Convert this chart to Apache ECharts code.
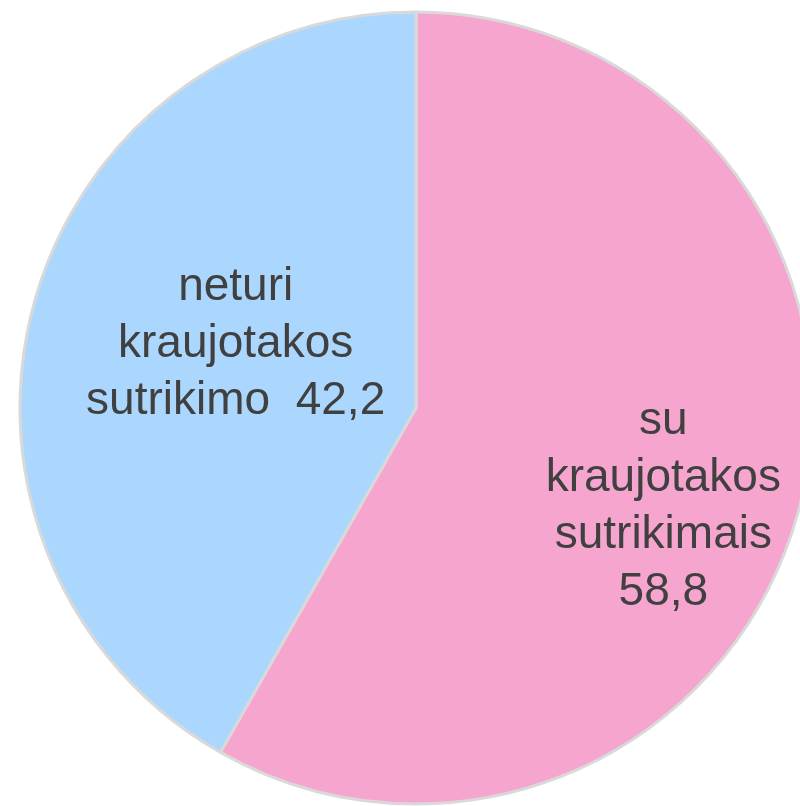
<!DOCTYPE html>
<html>
<head>
<meta charset="utf-8">
<style>html,body{margin:0;padding:0;background:#fff}#c{width:800px;height:806px}</style>
<script src="https://cdn.jsdelivr.net/npm/echarts@6/dist/echarts.min.js"></script>
</head>
<body>
<div id="c"></div>
<script>
var categories = ['su\nkraujotakos\nsutrikimais', 'neturi\nkraujotakos\nsutrikimo'];
var values = [58.8, 42.2];
var valueLabels = ['58,8', '42,2'];
var colors = ['#F6A5CE', '#ABD7FE'];

var chart = echarts.init(document.getElementById('c'), null, {renderer: 'canvas'});
var data = categories.map(function (c, i) {
  return {
    name: c,
    value: values[i],
    itemStyle: {color: colors[i]},
    label: i === 0
      ? {formatter: c + '\n' + valueLabels[i], offset: [53, 47]}
      : {formatter: c + '  ' + valueLabels[i], offset: [14, -12]}
  };
});
chart.setOption({
  animation: false,
  series: [{
    type: 'pie',
    center: [416, 408],
    radius: [0, 396],
    startAngle: 90,
    clockwise: true,
    itemStyle: {borderColor: '#D9D9D9', borderWidth: 3},
    label: {
      show: true,
      position: 'inside',
      fontFamily: 'Liberation Sans, Arial, sans-serif',
      fontSize: 46,
      lineHeight: 57,
      color: '#404040',
      align: 'center'
    },
    labelLine: {show: false},
    emphasis: {disabled: true},
    data: data
  }]
});
</script>
</body>
</html>
